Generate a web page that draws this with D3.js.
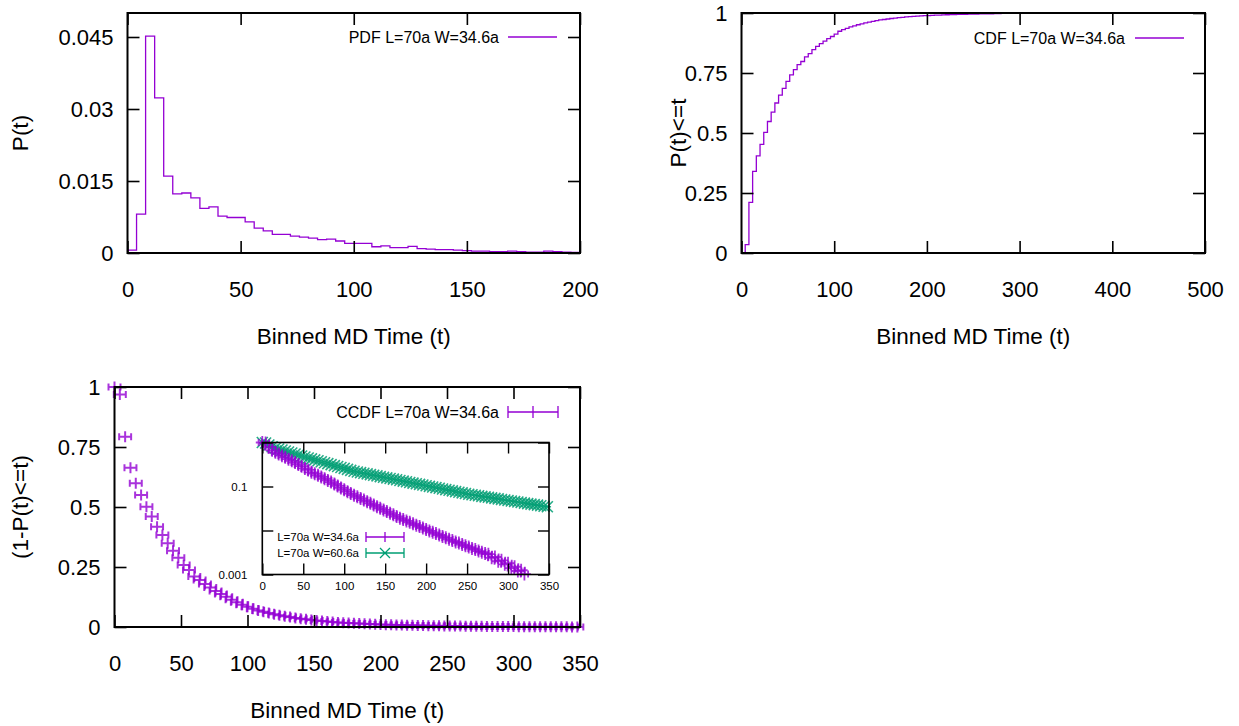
<!DOCTYPE html>
<html>
<head>
<meta charset="utf-8">
<script src="https://cdnjs.cloudflare.com/ajax/libs/d3/7.8.5/d3.min.js"></script>
<style>
body { margin: 0; background: #fff; }
svg { font-family: "Liberation Sans", Arial, Helvetica, sans-serif; }
</style>
</head>
<body>
<script>
// binned MD time, left edge of every 4-unit bin
var binTimes = [0, 4, 8, 12, 16, 20, 24, 28, 32, 36, 40, 44, 48, 52, 56, 60, 64, 68, 72, 76,
  80, 84, 88, 92, 96, 100, 104, 108, 112, 116, 120, 124, 128, 132, 136, 140, 144, 148, 152, 156,
  160, 164, 168, 172, 176, 180, 184, 188, 192, 196, 200, 204, 208, 212, 216, 220, 224, 228, 232, 236,
  240, 244, 248, 252, 256, 260, 264, 268, 272, 276, 280, 284, 288, 292, 296, 300, 304, 308, 312, 316,
  320, 324, 328, 332, 336, 340, 344, 348];
var pdfEnd = 200;
var xErr = 4.5;

// PDF L=70a W=34.6a (bins 0..196)
var pdfValues = [0.0006, 0.0081, 0.0452, 0.0323, 0.0160, 0.0123, 0.0125, 0.0115, 0.0093, 0.0096,
  0.0077, 0.0074, 0.0074, 0.0065, 0.0052, 0.0046, 0.0039, 0.0039, 0.0035, 0.0033,
  0.0031, 0.0028, 0.0029, 0.0025, 0.0020, 0.0020, 0.0020, 0.0013, 0.0015, 0.0011,
  0.0011, 0.0014, 0.0009, 0.0008, 0.0007, 0.0007, 0.0006, 0.0005, 0.0004, 0.0004,
  0.0003, 0.0003, 0.0004, 0.0003, 0.0002, 0.0002, 0.0004, 0.0003, 0.0002, 0.0001];

// CDF L=70a W=34.6a (t = 0..280)
var cdfValues = [0, 0.035, 0.211, 0.340, 0.405, 0.453, 0.503, 0.548, 0.587, 0.625,
  0.658, 0.686, 0.715, 0.742, 0.764, 0.785, 0.798, 0.817, 0.831, 0.847,
  0.861, 0.872, 0.883, 0.893, 0.902, 0.912, 0.924, 0.931, 0.936, 0.942,
  0.946, 0.951, 0.955, 0.959, 0.962, 0.965, 0.968, 0.971, 0.973, 0.975,
  0.977, 0.979, 0.981, 0.982, 0.9835, 0.985, 0.986, 0.987, 0.988, 0.989,
  0.9894, 0.990, 0.991, 0.9915, 0.992, 0.9927, 0.9932, 0.9937, 0.994, 0.9945,
  0.9948, 0.9952, 0.9955, 0.9958, 0.996, 0.9963, 0.9966, 0.9968, 0.997, 0.9972, 0.9975];

// CCDF L=70a W=34.6a
var ccdfValues = [1.0, 0.969, 0.793, 0.664, 0.599, 0.55, 0.501, 0.46, 0.418, 0.383,
  0.349, 0.318, 0.289, 0.258, 0.2375, 0.21, 0.196, 0.179, 0.165, 0.15,
  0.1375, 0.126, 0.114, 0.103, 0.093, 0.0843, 0.0762, 0.0692, 0.0635, 0.0583,
  0.0535, 0.0491, 0.0451, 0.0414, 0.0380, 0.0348, 0.0320, 0.0294, 0.0269, 0.0247,
  0.0227, 0.0208, 0.0191, 0.0177, 0.0165, 0.0153, 0.0142, 0.0132, 0.0123, 0.0114,
  0.0106, 0.0098, 0.0091, 0.0085, 0.0079, 0.0073, 0.0068, 0.0063, 0.0059, 0.0055,
  0.0052, 0.0048, 0.0045, 0.0042, 0.0039, 0.0037, 0.0034, 0.0032, 0.0030, 0.0029,
  0.0024, 0.0025, 0.0020, 0.0021, 0.0017, 0.0018, 0.0014, 0.0015, 0.0012, 0.00125,
  0.00102, 0.00093, 0.0008, 0.0007, 0.0006, 0.00055, 0.0005, 0.00045];

// CCDF L=70a W=60.6a (inset only)
var ccdfWideValues = [1.0, 0.975, 0.88, 0.80, 0.75, 0.711, 0.675, 0.640, 0.607, 0.577,
  0.547, 0.519, 0.492, 0.468, 0.445, 0.424, 0.403, 0.384, 0.365, 0.347,
  0.330, 0.314, 0.299, 0.284, 0.270, 0.258, 0.245, 0.233, 0.222, 0.213,
  0.206, 0.1995, 0.193, 0.186, 0.180, 0.174, 0.168, 0.1625, 0.157, 0.152,
  0.1466, 0.142, 0.137, 0.1325, 0.128, 0.1236, 0.1197, 0.1156, 0.1117, 0.108,
  0.1042, 0.1007, 0.0975, 0.0942, 0.091, 0.0879, 0.0849, 0.082, 0.0794, 0.0767,
  0.0741, 0.0716, 0.0692, 0.0668, 0.065, 0.0632, 0.0615, 0.0598, 0.0582, 0.0568,
  0.0552, 0.0537, 0.0522, 0.0508, 0.0494, 0.0481, 0.0469, 0.0456, 0.0444, 0.0432,
  0.042, 0.0408, 0.0397, 0.0386, 0.0377, 0.0366, 0.0356, 0.0347];

// tick labels
var pdfXTicks = [0, 50, 100, 150, 200];
var pdfYTicks = [0, 0.015, 0.03, 0.045];
var cdfXTicks = [0, 100, 200, 300, 400, 500];
var probTicks = [0, 0.25, 0.5, 0.75, 1];
var ccdfXTicks = [0, 50, 100, 150, 200, 250, 300, 350];
var insetYTicks = [0.001, 0.01, 0.1, 1];
var insetYLabeled = [0.001, 0.1];

var purple = '#9400d3', green = '#009e73';

var svg = d3.select('body').append('svg')
  .attr('width', 1239).attr('height', 726);

function drawFrame(x, y, xTicks, yTicks, xFmt, yFmt, o) {
  var x0 = x.range()[0], x1 = x.range()[1], yb = y.range()[0], yt = y.range()[1];
  var g = svg.append('g');
  g.append('g').attr('class', 'xl').attr('transform', 'translate(0,' + yb + ')')
    .call(d3.axisBottom(x).tickValues(xTicks).tickSize(-o.tick).tickFormat(xFmt));
  g.append('g').attr('transform', 'translate(0,' + yt + ')')
    .call(d3.axisTop(x).tickValues(xTicks).tickSize(-o.tick).tickFormat(''));
  g.append('g').attr('class', 'yl').attr('transform', 'translate(' + x0 + ',0)')
    .call(d3.axisLeft(y).tickValues(yTicks).tickSize(-o.tick).tickFormat(yFmt));
  g.append('g').attr('transform', 'translate(' + x1 + ',0)')
    .call(d3.axisRight(y).tickValues(yTicks).tickSize(-o.tick).tickFormat(''));
  g.selectAll('.domain').remove();
  g.selectAll('g').attr('font-size', null).attr('font-family', null);
  g.selectAll('.tick line').attr('stroke', '#000').attr('stroke-width', o.lw);
  g.selectAll('.tick text').attr('fill', '#000').style('font-size', o.font + 'px');
  g.selectAll('.xl .tick text').attr('y', o.xLab).attr('dy', '0.35em');
  g.selectAll('.yl .tick text').attr('x', -o.yLab).attr('dy', '0.35em');
  g.append('rect')
    .attr('x', x0).attr('y', yt)
    .attr('width', x1 - x0).attr('height', yb - yt)
    .attr('fill', 'none').attr('stroke', '#000').attr('stroke-width', o.bw);
  return g;
}

function axisTitles(x, y, xTitle, yTitle, yX) {
  var cxm = (x.range()[0] + x.range()[1]) / 2, cym = (y.range()[0] + y.range()[1]) / 2;
  svg.append('text')
    .attr('x', cxm).attr('y', y.range()[0] + 83).attr('dy', '0.35em')
    .attr('text-anchor', 'middle').style('font-size', '22.5px')
    .text(xTitle);
  svg.append('text')
    .attr('transform', 'translate(' + yX + ',' + cym + ') rotate(-90)')
    .attr('dy', '0.35em')
    .attr('text-anchor', 'middle').style('font-size', '22.5px')
    .text(yTitle);
}

function legendText(xEnd, yc, size, label) {
  svg.append('text')
    .attr('x', xEnd).attr('y', yc).attr('dy', '0.35em')
    .attr('text-anchor', 'end').style('font-size', size + 'px')
    .text(label);
}

function errSample(x0, x1, yc, cap, color, mark) {
  var xm = (x0 + x1) / 2;
  var d = 'M' + x0 + ',' + yc + 'H' + x1 +
    'M' + x0 + ',' + (yc - cap) + 'v' + (2 * cap) +
    'M' + x1 + ',' + (yc - cap) + 'v' + (2 * cap);
  if (mark == 'plus') d += 'M' + xm + ',' + (yc - cap) + 'v' + (2 * cap);
  else d += 'M' + (xm - cap) + ',' + (yc - cap) + 'l' + (2 * cap) + ',' + (2 * cap) +
    'M' + (xm - cap) + ',' + (yc + cap) + 'l' + (2 * cap) + ',' + (-2 * cap);
  svg.append('path').attr('d', d).attr('fill', 'none')
    .attr('stroke', color).attr('stroke-width', 1.3);
}

var outer = { tick: 12, lw: 1.6, bw: 2, font: 22, xLab: 36, yLab: 14 };

// ---- PDF ----
var px = d3.scaleLinear().domain([0, 200]).range([127.5, 580]);
var py = d3.scaleLinear().domain([0, 0.05]).range([253, 13]);
var pdfPts = pdfValues.map(function (v, i) { return [binTimes[i], v]; });
pdfPts.push([pdfEnd, pdfValues[pdfValues.length - 1]]);
svg.append('path')
  .attr('d', d3.line().x(function (d) { return px(d[0]); }).y(function (d) { return py(d[1]); })
    .curve(d3.curveStepAfter)(pdfPts))
  .attr('fill', 'none').attr('stroke', purple).attr('stroke-width', 1.3);
drawFrame(px, py, pdfXTicks, pdfYTicks, d3.format('d'), function (d) { return String(d); }, outer);
axisTitles(px, py, 'Binned MD Time (t)', 'P(t)', 20);
legendText(499, 37, 16, 'PDF L=70a W=34.6a');
svg.append('line').attr('x1', 508).attr('x2', 557).attr('y1', 37).attr('y2', 37)
  .attr('stroke', purple).attr('stroke-width', 1.3);

// ---- CDF ----
var qx = d3.scaleLinear().domain([0, 500]).range([741.5, 1205]);
var qy = d3.scaleLinear().domain([0, 1]).range([253, 13]);
var cdfPts = cdfValues.map(function (v, i) { return [binTimes[i], v]; });
svg.append('path')
  .attr('d', d3.line().x(function (d) { return qx(d[0]); }).y(function (d) { return qy(d[1]); })
    .curve(d3.curveStepAfter)(cdfPts))
  .attr('fill', 'none').attr('stroke', purple).attr('stroke-width', 1.3);
drawFrame(qx, qy, cdfXTicks, probTicks, d3.format('d'), function (d) { return String(d); }, outer);
axisTitles(qx, qy, 'Binned MD Time (t)', 'P(t)<=t', 678);
legendText(1125, 38, 16, 'CDF L=70a W=34.6a');
svg.append('line').attr('x1', 1135).attr('x2', 1184).attr('y1', 38).attr('y2', 38)
  .attr('stroke', purple).attr('stroke-width', 1.3);

// ---- CCDF ----
var cx = d3.scaleLinear().domain([0, 350]).range([114.5, 580]);
var cy = d3.scaleLinear().domain([0, 1]).range([627, 387]);

function plusMarks(g, x, y, values, size, cap) {
  g.selectAll(null)
    .data(values.map(function (v, i) { return { t: binTimes[i], v: v }; })
      .filter(function (d) { return d.v >= y.domain()[0]; }))
    .enter().append('path')
    .attr('d', function (d) {
      var xc = x(d.t), yc = y(d.v), a = x(d.t - xErr), b = x(d.t + xErr);
      return 'M' + a + ',' + yc + 'H' + b +
        'M' + a + ',' + (yc - cap) + 'v' + (2 * cap) +
        'M' + b + ',' + (yc - cap) + 'v' + (2 * cap) +
        'M' + xc + ',' + (yc - size) + 'v' + (2 * size) +
        'M' + (xc - size) + ',' + yc + 'h' + (2 * size);
    });
}

function crossMarks(g, x, y, values, size) {
  g.selectAll(null)
    .data(values.map(function (v, i) { return { t: binTimes[i], v: v }; })
      .filter(function (d) { return d.v >= y.domain()[0]; }))
    .enter().append('path')
    .attr('d', function (d) {
      var xc = x(d.t), yc = y(d.v), a = x(d.t - xErr), b = x(d.t + xErr);
      return 'M' + a + ',' + yc + 'H' + b +
        'M' + (xc - size) + ',' + (yc - size) + 'l' + (2 * size) + ',' + (2 * size) +
        'M' + (xc - size) + ',' + (yc + size) + 'l' + (2 * size) + ',' + (-2 * size);
    });
}

var ccdfG = svg.append('g').attr('fill', 'none').attr('stroke', purple)
  .attr('stroke-width', 2).attr('stroke-opacity', 0.8);
plusMarks(ccdfG, cx, cy, ccdfValues, 5.5, 3.5);
drawFrame(cx, cy, ccdfXTicks, probTicks, d3.format('d'), function (d) { return String(d); }, outer);
axisTitles(cx, cy, 'Binned MD Time (t)', '(1-P(t)<=t)', 20);
legendText(499, 412, 16, 'CCDF L=70a W=34.6a');
errSample(508, 558, 412, 6, purple, 'plus');

// ---- inset, log scale ----
var ix = d3.scaleLinear().domain([0, 350]).range([262.3, 549]);
var iy = d3.scaleLog().domain([0.001, 1]).range([574.5, 442.5]);
var wideG = svg.append('g').attr('fill', 'none').attr('stroke', green)
  .attr('stroke-width', 1.6).attr('stroke-opacity', 0.85);
crossMarks(wideG, ix, iy, ccdfWideValues, 5.5);
var narrowG = svg.append('g').attr('fill', 'none').attr('stroke', purple)
  .attr('stroke-width', 1.8).attr('stroke-opacity', 0.8);
plusMarks(narrowG, ix, iy, ccdfValues, 6.5, 3.5);
drawFrame(ix, iy, ccdfXTicks, insetYTicks, d3.format('d'),
  function (d) { return insetYLabeled.indexOf(d) >= 0 ? String(d) : ''; },
  { tick: 11, lw: 1.4, bw: 1.6, font: 11.5, xLab: 11, yLab: 15 });
legendText(359, 537, 11.5, 'L=70a W=34.6a');
errSample(366, 404, 537, 5, purple, 'plus');
legendText(359, 553, 11.5, 'L=70a W=60.6a');
errSample(366, 404, 553, 5, green, 'cross');
</script>
</body>
</html>
